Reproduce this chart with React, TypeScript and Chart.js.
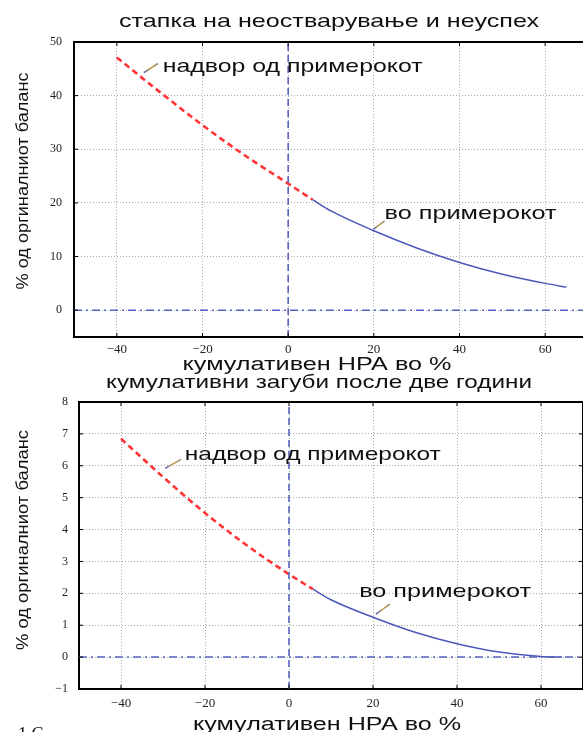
import React, { useEffect, useRef } from 'react';
import { Chart, registerables } from 'chart.js';
Chart.register(...registerables);

// ---------- data ----------
const xTickValues = [-40, -20, 0, 20, 40, 60];
const topYTickValues = [0, 10, 20, 30, 40, 50];
const botYTickValues = [-1, 0, 1, 2, 3, 4, 5, 6, 7, 8];

const topOutX = [-40, -30, -20, -10, 0, 5.7];
const topOutY = [47.1, 40.7, 34.5, 28.8, 23.6, 20.6];
const topInX = [5.7, 10, 20, 30, 40, 50, 60, 65];
const topInY = [20.6, 18.5, 14.8, 11.6, 8.9, 6.7, 5.0, 4.3];

const botOutX = [-40, -30, -20, -10, 0, 5.7];
const botOutY = [6.85, 5.65, 4.52, 3.5, 2.6, 2.13];
const botInX = [5.7, 10, 20, 30, 40, 50, 60, 65];
const botInY = [2.13, 1.8, 1.25, 0.78, 0.42, 0.16, 0.02, 0.0];

const titleTop = 'стапка на неостварување и неуспех';
const titleBottom = 'кумулативни загуби после две години';
const xAxisTitle = 'кумулативен НРА во %';
const yAxisTitle = '% од оргиналниот баланс';
const outLabel = 'надвор од примерокот';
const inLabel = 'во примерокот';
const footText = '1 С';

const SANS = '"Liberation Sans", Arial, sans-serif';
const SERIF = '"Liberation Serif", "Times New Roman", serif';

function pts(xs: number[], ys: number[]) {
  return xs.map((x, i) => ({ x, y: ys[i] }));
}

function fitText(ctx: CanvasRenderingContext2D, text: string, cx: number, cy: number, size: number, width: number, rot = false) {
  ctx.save();
  ctx.font = `${size}px ${SANS}`;
  const w = ctx.measureText(text).width;
  ctx.translate(cx, cy);
  if (rot) ctx.rotate(-Math.PI / 2);
  ctx.scale(width / w, 1);
  ctx.textAlign = 'center';
  ctx.textBaseline = 'middle';
  ctx.fillStyle = '#111';
  ctx.fillText(text, 0, 0);
  ctx.restore();
}

type Annot = { text: string; x: number; y: number; w: number; a1: [number, number]; a2: [number, number] };
type TextItem = { text: string; cx: number; cy: number; size: number; w: number; rot?: boolean };

type Spec = {
  xMin: number; xMax: number; yMin: number; yMax: number;
  yTicks: number[];
  outX: number[]; outY: number[]; inX: number[]; inY: number[];
  padTop: number; padBottom: number; padRight: number;
  yWidth: number; xHeight: number; xTickPad: number; yTickPad: number;
  texts: TextItem[];
  annots: Annot[];
  foot?: boolean;
};

const topSpec: Spec = {
  xMin: -50, xMax: 70, yMin: -5, yMax: 50,
  yTicks: topYTickValues,
  outX: topOutX, outY: topOutY, inX: topInX, inY: topInY,
  padTop: 42, padBottom: 355, padRight: 12,
  yWidth: 74, xHeight: 40, xTickPad: 5, yTickPad: 12,
  texts: [
    { text: titleTop, cx: 329, cy: 22, size: 19, w: 420 },
    { text: xAxisTitle, cx: 317, cy: 365, size: 18, w: 269 },
    { text: yAxisTitle, cx: 23, cy: 181, size: 17, w: 217, rot: true },
  ],
  annots: [
    { text: outLabel, x: -29.3, y: 45.3, w: 260, a1: [-33.7, 44.3], a2: [-30.4, 46.0] },
    { text: inLabel, x: 22.5, y: 17.9, w: 172, a1: [19.9, 15.1], a2: [22.5, 16.6] },
  ],
};

const botSpec: Spec = {
  xMin: -50, xMax: 70, yMin: -1, yMax: 8,
  yTicks: botYTickValues,
  outX: botOutX, outY: botOutY, inX: botInX, inY: botInY,
  padTop: 402, padBottom: 3, padRight: 17,
  yWidth: 79, xHeight: 40, xTickPad: 7, yTickPad: 11,
  texts: [
    { text: titleBottom, cx: 319, cy: 383, size: 19, w: 426 },
    { text: xAxisTitle, cx: 327, cy: 725, size: 18, w: 268 },
    { text: yAxisTitle, cx: 23, cy: 540, size: 17, w: 220, rot: true },
  ],
  annots: [
    { text: outLabel, x: -24.8, y: 6.36, w: 256, a1: [-29.5, 5.92], a2: [-25.7, 6.2] },
    { text: inLabel, x: 16.7, y: 2.04, w: 172, a1: [20.7, 1.35], a2: [24.0, 1.66] },
  ],
  foot: true,
};

function fmt(v: number) {
  return v < 0 ? '\u2212' + Math.abs(v) : String(v);
}

function Panel({ spec }: { spec: Spec }) {
  const ref = useRef<HTMLCanvasElement | null>(null);
  useEffect(() => {
    const canvas = ref.current!;
    const decor = {
      id: 'decor',
      afterDatasetsDraw(chart: any) {
        const { ctx, chartArea: a, scales } = chart;
        const xs = scales.x, ys = scales.y;
        ctx.save();
        ctx.strokeStyle = '#000';
        ctx.lineWidth = 2;
        ctx.beginPath();
        ctx.moveTo(a.left - 1, a.top);
        ctx.lineTo(a.right, a.top);
        ctx.moveTo(a.right, a.top);
        ctx.lineTo(a.right, a.bottom);
        ctx.stroke();
        ctx.lineWidth = 1;
        ctx.beginPath();
        xTickValues.forEach((v) => {
          const px = xs.getPixelForValue(v);
          ctx.moveTo(px, a.top); ctx.lineTo(px, a.top + 4);
          ctx.moveTo(px, a.bottom); ctx.lineTo(px, a.bottom - 4);
        });
        spec.yTicks.forEach((v) => {
          const py = ys.getPixelForValue(v);
          ctx.moveTo(a.left, py); ctx.lineTo(a.left + 4, py);
          ctx.moveTo(a.right, py); ctx.lineTo(a.right - 4, py);
        });
        ctx.stroke();
        ctx.restore();
      },
      afterDraw(chart: any) {
        const { ctx, scales } = chart;
        const xs = scales.x, ys = scales.y;
        spec.texts.forEach((t) => fitText(ctx, t.text, t.cx, t.cy, t.size, t.w, t.rot));
        spec.annots.forEach((an) => {
          const left = xs.getPixelForValue(an.x);
          const cy = ys.getPixelForValue(an.y);
          fitText(ctx, an.text, left + an.w / 2, cy, 19, an.w);
          const x1 = xs.getPixelForValue(an.a1[0]), y1 = ys.getPixelForValue(an.a1[1]);
          const x2 = xs.getPixelForValue(an.a2[0]), y2 = ys.getPixelForValue(an.a2[1]);
          ctx.save();
          const g = ctx.createLinearGradient(x1, y1, x2, y2);
          g.addColorStop(0, '#3f5fb0');
          g.addColorStop(0.5, '#c8a040');
          g.addColorStop(1, '#8a8a70');
          ctx.strokeStyle = g;
          ctx.lineWidth = 1.6;
          ctx.beginPath();
          ctx.moveTo(x1, y1);
          ctx.lineTo(x2, y2);
          ctx.stroke();
          ctx.restore();
        });
        if (spec.foot) {
          ctx.save();
          ctx.font = `18px ${SERIF}`;
          ctx.fillStyle = '#111';
          ctx.textBaseline = 'alphabetic';
          ctx.fillText(footText, 18, 740);
          ctx.restore();
        }
      },
    };

    const refColor = '#5563bd';
    const chart = new Chart(canvas, {
      type: 'line',
      data: {
        datasets: [
          {
            data: [{ x: spec.xMin, y: 0 }, { x: spec.xMax, y: 0 }],
            borderColor: refColor, borderWidth: 1.5, borderDash: [8, 4, 2, 4],
            pointRadius: 0, fill: false,
          },
          {
            data: [{ x: 0, y: spec.yMin }, { x: 0, y: spec.yMax }],
            borderColor: refColor, borderWidth: 1.6, borderDash: [7, 4],
            pointRadius: 0, fill: false,
          },
          {
            data: pts(spec.outX, spec.outY),
            borderColor: '#ff3434', borderWidth: 2.6, borderDash: [6, 4],
            pointRadius: 0, fill: false, cubicInterpolationMode: 'monotone',
          },
          {
            data: pts(spec.inX, spec.inY),
            borderColor: '#4b58bb', borderWidth: 1.5,
            pointRadius: 0, fill: false, cubicInterpolationMode: 'monotone',
          },
        ],
      },
      options: {
        responsive: false,
        animation: false,
        devicePixelRatio: 1,
        layout: { padding: { top: spec.padTop, bottom: spec.padBottom, left: 0, right: spec.padRight } },
        plugins: { legend: { display: false }, title: { display: false }, tooltip: { enabled: false } },
        events: [],
        scales: {
          x: {
            type: 'linear',
            min: spec.xMin, max: spec.xMax,
            afterBuildTicks: (s: any) => { s.ticks = xTickValues.map((v) => ({ value: v })); },
            afterFit: (s: any) => { s.height = spec.xHeight; },
            ticks: {
              callback: (v: any) => fmt(Number(v)),
              font: { family: SERIF, size: 13 },
              color: '#1e1e1e',
              padding: spec.xTickPad,
              maxRotation: 0,
              autoSkip: false,
            },
            grid: { color: '#a8a8a8', lineWidth: 1, drawTicks: false, tickBorderDash: [], },
            border: { display: true, color: '#000', width: 2, dash: [1, 2] },
          },
          y: {
            type: 'linear',
            min: spec.yMin, max: spec.yMax,
            afterBuildTicks: (s: any) => { s.ticks = spec.yTicks.map((v) => ({ value: v })); },
            afterFit: (s: any) => { s.width = spec.yWidth; },
            ticks: {
              callback: (v: any) => fmt(Number(v)),
              font: { family: SERIF, size: 12 },
              color: '#1e1e1e',
              padding: spec.yTickPad,
              autoSkip: false,
            },
            grid: { color: '#a8a8a8', lineWidth: 1, drawTicks: false },
            border: { display: true, color: '#000', width: 2, dash: [1, 2] },
          },
        },
      } as any,
      plugins: [decor],
    });
    return () => chart.destroy();
  }, [spec]);
  return (
    <canvas
      ref={ref}
      width={600}
      height={732}
      style={{ position: 'absolute', left: 0, top: 0, width: 600, height: 732 }}
    />
  );
}

export default function App() {
  return (
    <div style={{ position: 'fixed', left: 0, top: 0, width: 583, height: 732, overflow: 'hidden', background: '#fff' }}>
      <Panel spec={topSpec} />
      <Panel spec={botSpec} />
    </div>
  );
}
